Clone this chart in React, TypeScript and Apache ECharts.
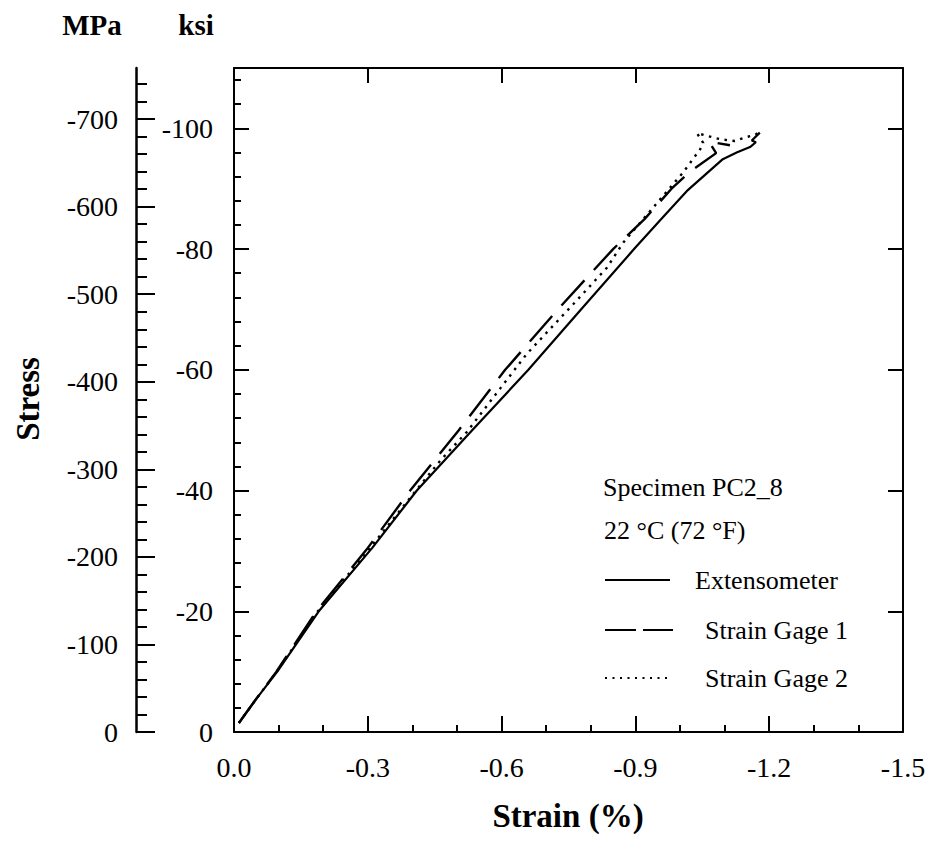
import React, { useEffect, useRef } from "react";
import * as echarts from "echarts";

// ---- Data (strain in %, stress in ksi) ----
const strainExtensometer = [-0.011, -0.05, -0.097, -0.19, -0.31, -0.41, -0.534, -0.66, -0.778, -0.897, -0.958, -1.015, -1.096, -1.127, -1.157, -1.17, -1.161, -1.179];
const stressExtensometer = [-1.5, -5.5, -10, -20, -30.5, -40, -50, -60, -70, -80, -85, -89.6, -94.9, -96.0, -96.9, -97.7, -98.0, -99.3];

const strainGage1 = [-0.011, -0.05, -0.095, -0.185, -0.3, -0.395, -0.504, -0.608, -0.726, -0.85, -0.921, -0.981, -1.022, -1.081, -1.065, -1.112];
const stressGage1 = [-1.5, -5.5, -10, -20, -30.5, -40, -50, -60, -70, -80, -85, -90, -92.8, -95.9, -97.8, -97.2];

const strainGage2 = [-0.011, -0.05, -0.096, -0.188, -0.305, -0.408, -0.463, -0.522, -0.656, -0.761, -0.836, -0.873, -1.007, -1.045, -1.052, -1.038, -1.09, -1.123, -1.146, -1.168, -1.182];
const stressGage2 = [-1.5, -5.5, -10, -20, -30.5, -40, -45, -49.7, -62.6, -70.9, -76.9, -81.1, -92.7, -96.5, -97.6, -99.2, -98.2, -97.9, -98.5, -98.9, -99.6];

// ---- Axis ticks / labels ----
const ksiMajorTicks = [-100, -80, -60, -40, -20, 0];
const ksiMinorTicks = [-108, -104, -96, -92, -88, -84, -76, -72, -68, -64, -56, -52, -48, -44, -36, -32, -28, -24, -16, -12, -8, -4];
const ksiRightTicks = [-100, -80, -60, -40, -20];
const mpaMajorTicks = [-700, -600, -500, -400, -300, -200, -100, 0];
const mpaMinorTicks = [-740, -720, -680, -660, -640, -620, -580, -560, -540, -520, -480, -460, -440, -420, -380, -360, -340, -320, -280, -260, -240, -220, -180, -160, -140, -120, -80, -60, -40, -20];
const strainMin = -1.5;
const strainMax = 0;
const strainInterval = 0.3;
const ksiMin = -110;
const ksiMax = 0;
const KSI_TO_MPA = 6.894757;

const SERIF = '"Liberation Serif", "Times New Roman", serif';

export default function App() {
  const ref = useRef<HTMLDivElement | null>(null);

  useEffect(() => {
    if (!ref.current) return;
    const chart = echarts.init(ref.current, undefined, { renderer: "svg" });

    const black = "#000";
    const tickFont = { color: black, fontFamily: SERIF, fontSize: 28 };

    const pair = (xs: number[], ys: number[]) => xs.map((x, i) => [x, ys[i]]);

    const grid0 = { left: 234, top: 68, width: 669, height: 664 };

    const option: any = {
      animation: false,
      backgroundColor: "#fff",
      grid: [
        { ...grid0, containLabel: false },
        { left: 136, top: 68, width: 1, height: 664, containLabel: false },
      ],
      xAxis: [
        {
          gridIndex: 0,
          type: "value",
          position: "bottom",
          min: strainMin,
          max: strainMax,
          interval: strainInterval,
          inverse: true,
          axisLine: { show: true, onZero: false, lineStyle: { color: black, width: 2 } },
          axisTick: { show: true, inside: true, length: 16, lineStyle: { color: black, width: 2 } },
          minorTick: { show: true, splitNumber: 3, length: 7, lineStyle: { color: black, width: 2 } },
          axisLabel: {
            ...tickFont,
            margin: 21,
            formatter: (v: number) => (Math.abs(v) < 1e-9 ? "0.0" : v.toFixed(1)),
          },
          splitLine: { show: false },
          minorSplitLine: { show: false },
        },
        {
          gridIndex: 0,
          type: "value",
          position: "top",
          min: strainMin,
          max: strainMax,
          interval: strainInterval,
          inverse: true,
          axisLine: { show: true, onZero: false, lineStyle: { color: black, width: 2 } },
          axisTick: { show: true, inside: true, length: 15, lineStyle: { color: black, width: 2 } },
          axisLabel: { show: false },
          splitLine: { show: false },
        },
        {
          gridIndex: 1,
          type: "value",
          show: false,
          min: 0,
          max: 1,
        },
      ],
      yAxis: [
        {
          gridIndex: 0,
          type: "value",
          position: "left",
          min: ksiMin,
          max: ksiMax,
          inverse: true,
          axisLine: { show: true, onZero: false, lineStyle: { color: black, width: 2 } },
          axisTick: { show: true, inside: true, length: 15, customValues: ksiMajorTicks, lineStyle: { color: black, width: 2 } },
          axisLabel: { ...tickFont, margin: 21, customValues: ksiMajorTicks, formatter: (v: number) => String(v) },
          splitLine: { show: false },
        },
        {
          gridIndex: 0,
          type: "value",
          position: "left",
          min: ksiMin,
          max: ksiMax,
          inverse: true,
          axisLine: { show: false, onZero: false },
          axisTick: { show: true, inside: true, length: 7, customValues: ksiMinorTicks, lineStyle: { color: black, width: 2 } },
          axisLabel: { show: false },
          splitLine: { show: false },
        },
        {
          gridIndex: 0,
          type: "value",
          position: "right",
          min: ksiMin,
          max: ksiMax,
          inverse: true,
          axisLine: { show: true, onZero: false, lineStyle: { color: black, width: 2 } },
          axisTick: { show: true, inside: true, length: 15, customValues: ksiRightTicks, lineStyle: { color: black, width: 2 } },
          axisLabel: { show: false },
          splitLine: { show: false },
        },
        {
          gridIndex: 1,
          type: "value",
          position: "left",
          min: ksiMin * KSI_TO_MPA,
          max: ksiMax * KSI_TO_MPA,
          inverse: true,
          axisLine: { show: true, onZero: false, lineStyle: { color: black, width: 2.5 } },
          axisTick: { show: true, inside: true, length: 19, customValues: mpaMajorTicks, lineStyle: { color: black, width: 2 } },
          axisLabel: { ...tickFont, margin: 18, customValues: mpaMajorTicks, formatter: (v: number) => String(v) },
          splitLine: { show: false },
        },
        {
          gridIndex: 1,
          type: "value",
          position: "left",
          min: ksiMin * KSI_TO_MPA,
          max: ksiMax * KSI_TO_MPA,
          inverse: true,
          axisLine: { show: false, onZero: false },
          axisTick: { show: true, inside: true, length: 11, customValues: mpaMinorTicks, lineStyle: { color: black, width: 2 } },
          axisLabel: { show: false },
          splitLine: { show: false },
        },
      ],
      series: [
        {
          name: "Extensometer",
          type: "line",
          xAxisIndex: 0,
          yAxisIndex: 0,
          data: pair(strainExtensometer, stressExtensometer),
          symbol: "none",
          showSymbol: false,
          silent: true,
          lineStyle: { color: black, width: 2.2, type: "solid" },
        },
        {
          name: "Strain Gage 1",
          type: "line",
          xAxisIndex: 0,
          yAxisIndex: 0,
          data: pair(strainGage1, stressGage1),
          symbol: "none",
          showSymbol: false,
          silent: true,
          lineStyle: { color: black, width: 2.4, type: [34, 14] },
        },
        {
          name: "Strain Gage 2",
          type: "line",
          xAxisIndex: 0,
          yAxisIndex: 0,
          data: pair(strainGage2, stressGage2),
          symbol: "none",
          showSymbol: false,
          silent: true,
          lineStyle: { color: black, width: 2.4, type: [2.5, 5.5] },
        },
      ],
      graphic: [
        {
          type: "text",
          x: 92,
          y: 25,
          style: { text: "MPa", font: `bold 29px ${SERIF}`, fill: black, align: "center", verticalAlign: "middle" },
        },
        {
          type: "text",
          x: 196,
          y: 25,
          style: { text: "ksi", font: `bold 29px ${SERIF}`, fill: black, align: "center", verticalAlign: "middle" },
        },
        {
          type: "text",
          x: 28,
          y: 399,
          rotation: Math.PI / 2,
          style: { text: "Stress", font: `bold 33px ${SERIF}`, fill: black, align: "center", verticalAlign: "middle" },
        },
        {
          type: "text",
          x: 568,
          y: 816,
          style: { text: "Strain (%)", font: `bold 33px ${SERIF}`, fill: black, align: "center", verticalAlign: "middle" },
        },
        {
          type: "text",
          x: 603,
          y: 487,
          style: { text: "Specimen PC2_8", font: `26px ${SERIF}`, fill: black, align: "left", verticalAlign: "middle" },
        },
        {
          type: "text",
          x: 604,
          y: 530,
          style: { text: "22 °C (72 °F)", font: `26px ${SERIF}`, fill: black, align: "left", verticalAlign: "middle" },
        },
        {
          type: "line",
          shape: { x1: 605, y1: 580, x2: 670, y2: 580 },
          style: { stroke: black, lineWidth: 2 },
        },
        {
          type: "text",
          x: 695,
          y: 580,
          style: { text: "Extensometer", font: `26px ${SERIF}`, fill: black, align: "left", verticalAlign: "middle" },
        },
        {
          type: "line",
          shape: { x1: 605, y1: 630, x2: 673, y2: 630 },
          style: { stroke: black, lineWidth: 2, lineDash: [31, 7] },
        },
        {
          type: "text",
          x: 705,
          y: 630,
          style: { text: "Strain Gage 1", font: `26px ${SERIF}`, fill: black, align: "left", verticalAlign: "middle" },
        },
        {
          type: "line",
          shape: { x1: 605, y1: 678, x2: 672, y2: 678 },
          style: { stroke: black, lineWidth: 2, lineDash: [2, 5.5] },
        },
        {
          type: "text",
          x: 705,
          y: 678,
          style: { text: "Strain Gage 2", font: `26px ${SERIF}`, fill: black, align: "left", verticalAlign: "middle" },
        },
      ],
    };

    chart.setOption(option);
    return () => {
      chart.dispose();
    };
  }, []);

  return (
    <div
      ref={ref}
      style={{ position: "fixed", left: 0, top: 0, width: 936, height: 852, background: "#fff" }}
    />
  );
}
